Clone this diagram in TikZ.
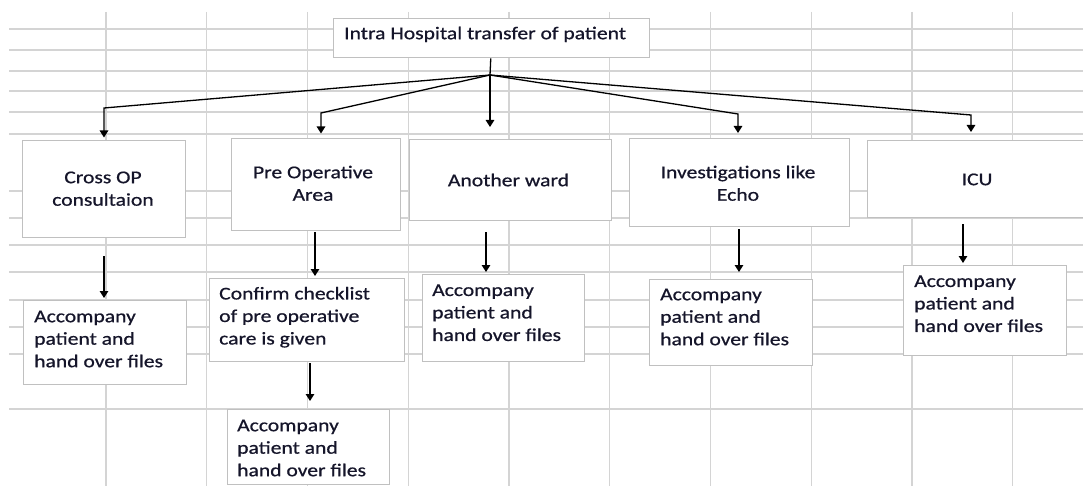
\documentclass[tikz,border=0pt]{standalone}
\usepackage{fontspec}
\setmainfont{Carlito}[FakeBold=0.6]
\usepackage{graphicx}
\usetikzlibrary{arrows.meta}
\definecolor{gridgray}{HTML}{D4D4D4}
\definecolor{boxgray}{HTML}{C0C0C0}
\definecolor{ink}{HTML}{15152A}
% widened text block (column spec, lines)
\newcommand\widetext[2]{\scalebox{1.2}[1]{\begin{tabular}{@{}#1@{}}#2\end{tabular}}}

\begin{document}
\begin{tikzpicture}[x=1pt,y=-1pt,
  box/.style={draw=boxgray, line width=1.4pt, fill=white, rectangle, inner sep=0pt, anchor=north west},
  txt/.style={inner sep=0pt, text=ink, font=\fontsize{18}{22.5}\selectfont},
  link/.style={draw=black, line width=1.3pt},
  arr/.style={link, -{Triangle[length=7pt,width=8.5pt]}},
  gridline/.style={draw=gridgray, line width=1.3pt}]
\useasboundingbox (0,0) rectangle (1083,486);

% spreadsheet grid behind the chart
\foreach \k in {0,...,9} \draw[gridline] ({106+100.75*\k},12) -- ({106+100.75*\k},486);
\foreach \y in {29,50,71,91,112,134,191,218,245,272,300,327,354,409} \draw[gridline] (9,\y) -- (1083,\y);

% boxes
\node[box, minimum width=316pt, minimum height=39pt] (top) at (333,18) {};
\node[box, minimum width=163pt, minimum height=97pt] (cross) at (22,140) {};
\node[box, minimum width=169pt, minimum height=92pt] (preop) at (231,138) {};
\node[box, minimum width=202pt, minimum height=81pt] (ward) at (409,139) {};
\node[box, minimum width=220pt, minimum height=88pt] (invest) at (629,138) {};
\node[box, minimum width=216pt, minimum height=77pt] (icu) at (867,140) {};
\node[box, minimum width=163pt, minimum height=84pt] (acc1) at (23,300) {};
\node[box, minimum width=195pt, minimum height=83pt] (check) at (209,278) {};
\node[box, minimum width=162pt, minimum height=75pt] (acc2) at (227,409) {};
\node[box, minimum width=162pt, minimum height=87pt] (acc3) at (422,274) {};
\node[box, minimum width=163pt, minimum height=86pt] (acc4) at (649,279) {};
\node[box, minimum width=163pt, minimum height=90pt] (acc5) at (903,265) {};

% texts
\node[txt, anchor=north west] (top-t) at (344,23.25) {\widetext{l}{Intra Hospital transfer of patient}};
\node[txt, anchor=north] (cross-t) at (103,167.25) {\widetext{c}{Cross OP\\consultaion}};
\node[txt, anchor=north] (preop-t) at (313,162.25) {\widetext{c}{Pre Operative\\Area}};
\node[txt, anchor=north] (ward-t) at (508.5,170.25) {\widetext{c}{Another ward}};
\node[txt, anchor=north] (invest-t) at (738,162.25) {\widetext{c}{Investigations like\\Echo}};
\node[txt, anchor=north] (icu-t) at (977,169.25) {\widetext{c}{ICU}};
\node[txt, anchor=north west] (acc1-t) at (34,306.25) {\widetext{l}{Accompany\\patient and\\hand over files}};
\node[txt, anchor=north west] (check-t) at (219,283.5) {\widetext{l}{Confirm checklist\\of pre operative\\care is given}};
\node[txt, anchor=north west] (acc2-t) at (237,415.25) {\widetext{l}{Accompany\\patient and\\hand over files}};
\node[txt, anchor=north west] (acc3-t) at (432,280) {\widetext{l}{Accompany\\patient and\\hand over files}};
\node[txt, anchor=north west] (acc4-t) at (660,284.25) {\widetext{l}{Accompany\\patient and\\hand over files}};
\node[txt, anchor=north west] (acc5-t) at (914,271) {\widetext{l}{Accompany\\patient and\\hand over files}};

% branching connectors from the top box
\coordinate (hub) at (490,75);
\coordinate (b1) at (104,108);
\coordinate (b2) at (321,113);
\coordinate (b4) at (738,114);
\coordinate (b5) at (971,115);
\draw[link] (top) -- (hub);
\draw[arr, shorten >=2.5pt] (hub) -- (b1) -- (b1 |- cross.north);
\draw[arr, shorten >=4.5pt] (hub) -- (b2) -- (b2 |- preop.north);
\draw[arr, shorten >=12pt] (hub) -- (hub |- ward.north);
\draw[arr, shorten >=5pt] (hub) -- (b4) -- (b4 |- invest.north);
\draw[arr, shorten >=8pt] (hub) -- (b5) -- (b5 |- icu.north);

% second level arrows
\draw[arr, shorten <=18pt, shorten >=2pt] (cross.south -| 104,0) -- (acc1.north -| 104,0);
\draw[arr, shorten <=1pt, shorten >=2pt] (preop.south -| 315,0) -- (check.north -| 315,0);
\draw[arr, shorten <=1pt, shorten >=8pt] (check.south -| 310,0) -- (acc2.north -| 310,0);
\draw[arr, shorten <=11pt, shorten >=2pt] (ward.south -| 486,0) -- (acc3.north -| 486,0);
\draw[arr, shorten <=2pt, shorten >=7pt] (invest.south -| 739,0) -- (acc4.north -| 739,0);
\draw[arr, shorten <=6pt, shorten >=2pt] (icu.south -| 963,0) -- (acc5.north -| 963,0);
\end{tikzpicture}
\end{document}
